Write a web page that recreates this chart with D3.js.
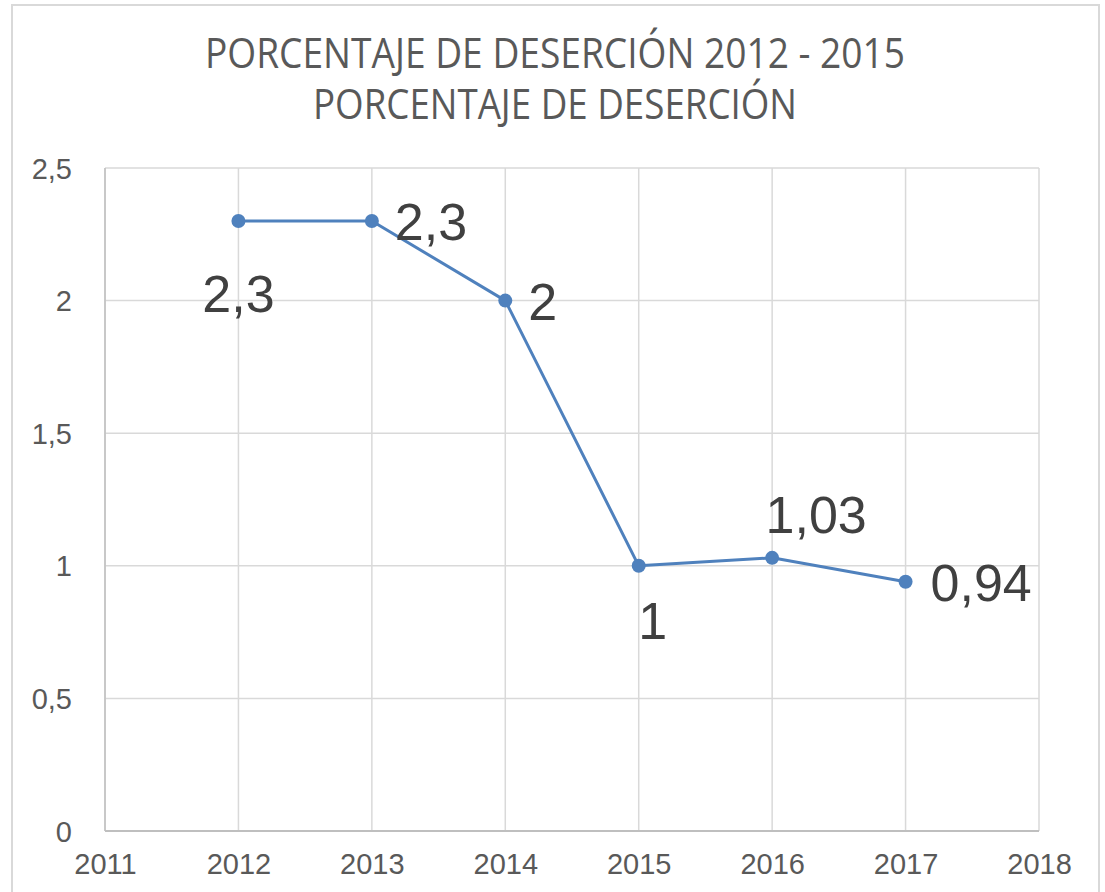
<!DOCTYPE html>
<html>
<head>
<meta charset="utf-8">
<script src="https://cdn.jsdelivr.net/npm/d3@7"></script>
<style>
  body { margin: 0; background: #fff; }
  svg { display: block; }
</style>
</head>
<body>
<div class="chart"></div>
<script>
const years = [2012, 2013, 2014, 2015, 2016, 2017];
const values = [2.3, 2.3, 2, 1, 1.03, 0.94];
const labels = ["2,3", "2,3", "2", "1", "1,03", "0,94"];
// where each data label sits relative to its point
const labelPos = ["below", "right", "right", "below", "above", "right"];
const yTicks = [0, 0.5, 1, 1.5, 2, 2.5];
const xTicks = [2011, 2012, 2013, 2014, 2015, 2016, 2017, 2018];
const titleLines = ["PORCENTAJE DE DESERCIÓN 2012 - 2015", "PORCENTAJE DE DESERCIÓN"];

const W = 1105, H = 892;
const margin = ({top: 168, right: 66, bottom: 61, left: 105});
const width = W - margin.left - margin.right;
const height = H - margin.top - margin.bottom;

const root = d3.select(".chart")
    .append("svg")
    .attr("width", W)
    .attr("height", H);

// outer frame
root.append("rect")
    .attr("x", 12).attr("y", 5)
    .attr("width", 1087).attr("height", 900)
    .attr("fill", "#fff")
    .attr("stroke", "#d9d9d9")
    .attr("stroke-width", 2);

// title
root.selectAll(".title")
    .data(titleLines)
    .enter()
    .append("text")
    .attr("class", "title")
    .attr("x", 555)
    .attr("y", (d, i) => 68 + i * 51)
    .attr("text-anchor", "middle")
    .attr("font-family", "'Liberation Sans Narrow', 'Open Sans', sans-serif")
    .attr("font-size", 42)
    .attr("fill", "#595959")
    .attr("textLength", (d, i) => i == 0 ? 700 : 484)
    .attr("lengthAdjust", "spacingAndGlyphs")
    .text(d => d);

const svg = root.append("g")
    .attr("transform", `translate(${margin.left},${margin.top})`);

const xScale = d3.scaleLinear()
    .domain([2011, 2018])
    .range([0, width]);

const yScale = d3.scaleLinear()
    .domain([0, 2.5])
    .range([height, 0]);

// gridlines
svg.append("g")
    .selectAll("line")
    .data(yTicks)
    .enter()
    .append("line")
    .attr("x1", 0).attr("x2", width)
    .attr("y1", d => yScale(d)).attr("y2", d => yScale(d))
    .attr("stroke", "#d9d9d9")
    .attr("stroke-width", 1.5);

svg.append("g")
    .selectAll("line")
    .data(xTicks)
    .enter()
    .append("line")
    .attr("x1", d => xScale(d)).attr("x2", d => xScale(d))
    .attr("y1", 0).attr("y2", height)
    .attr("stroke", "#d9d9d9")
    .attr("stroke-width", 1.5);

// axis lines
svg.append("line")
    .attr("x1", 0).attr("x2", width)
    .attr("y1", height).attr("y2", height)
    .attr("stroke", "#bfbfbf")
    .attr("stroke-width", 2);
svg.append("line")
    .attr("x1", 0).attr("x2", 0)
    .attr("y1", 0).attr("y2", height)
    .attr("stroke", "#bfbfbf")
    .attr("stroke-width", 1.5);

// using axis for tick labels
const xAxis = d3.axisBottom(xScale)
    .tickValues(xTicks)
    .tickFormat(d3.format("d"))
    .tickSize(0)
    .tickPadding(22);

const yAxis = d3.axisLeft(yScale)
    .tickValues(yTicks)
    .tickFormat(d => String(d).replace(".", ","))
    .tickSize(0)
    .tickPadding(33);

let xAxisGroup = svg.append("g")
    .attr("class", "axis x-axis")
    .attr("transform", `translate(0, ${height})`)
    .call(xAxis);

let yAxisGroup = svg.append("g")
    .attr("class", "axis y-axis")
    .call(yAxis);

svg.selectAll(".axis .domain").remove();
svg.selectAll(".axis text")
    .attr("font-family", "'Liberation Sans', Arial, sans-serif")
    .attr("font-size", 29)
    .attr("fill", "#595959");
yAxisGroup.selectAll("text").attr("dy", "0.35em");

// line and points
const line = d3.line()
    .x((d, i) => xScale(years[i]))
    .y(d => yScale(d));

svg.append("path")
    .datum(values)
    .attr("fill", "none")
    .attr("stroke", "#4f81bd")
    .attr("stroke-width", 3)
    .attr("stroke-linejoin", "round")
    .attr("d", line);

svg.selectAll("circle")
    .data(values)
    .enter()
    .append("circle")
    .attr("cx", (d, i) => xScale(years[i]))
    .attr("cy", d => yScale(d))
    .attr("r", 7)
    .attr("fill", "#4f81bd");

// data labels
const off = {
    below: {dx: 0, dy: 91, anchor: "middle"},
    right: {dx: 23, dy: 19, anchor: "start"},
    above: {dx: 44, dy: -25, anchor: "middle"}
};
const tweak = [[0, 0], [0, 0], [0, 0], [14, -18], [0, 0], [2, 0]];

svg.selectAll(".dlabel")
    .data(values)
    .enter()
    .append("text")
    .attr("class", "dlabel")
    .attr("x", (d, i) => xScale(years[i]) + off[labelPos[i]].dx + tweak[i][0])
    .attr("y", (d, i) => yScale(d) + off[labelPos[i]].dy + tweak[i][1])
    .attr("text-anchor", (d, i) => off[labelPos[i]].anchor)
    .attr("font-family", "'Liberation Sans', Arial, sans-serif")
    .attr("font-size", 52)
    .attr("fill", "#404040")
    .text((d, i) => labels[i]);
</script>
</body>
</html>
